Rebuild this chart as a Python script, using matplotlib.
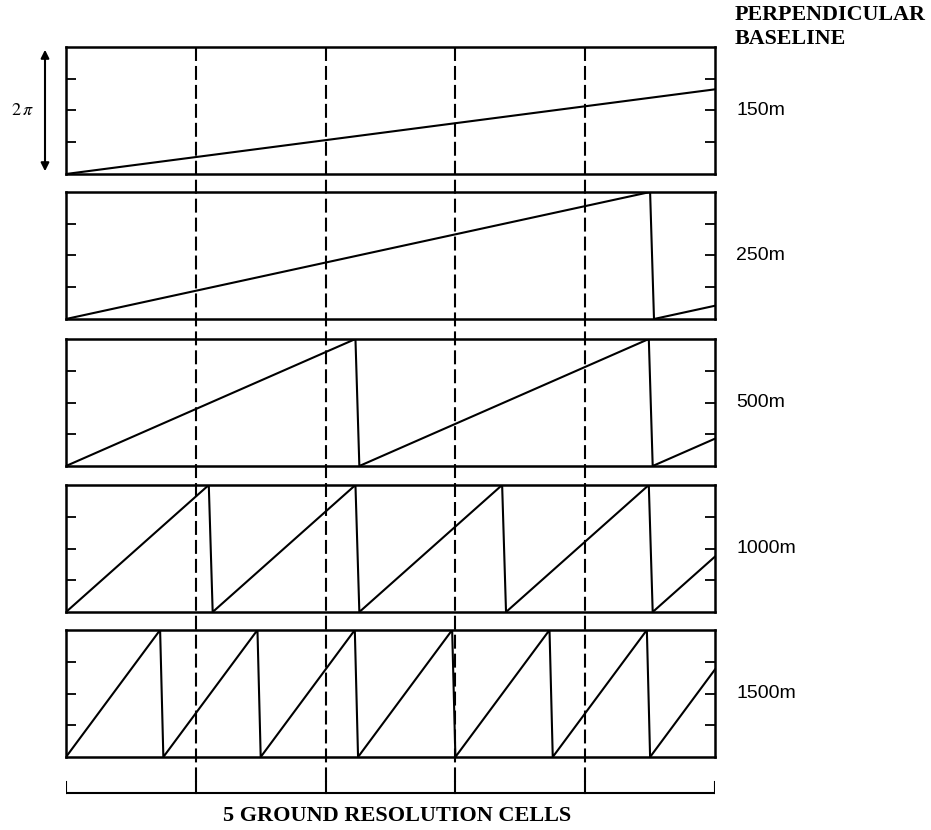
import matplotlib.pyplot as plt
from matplotlib.patches import FancyArrowPatch
import numpy as np

# perpendicular baselines; length of one phase ramp (0 -> 2 pi) in ground
# resolution cells, and the small run of the wrap edge back to zero
baselines = ["150m", "250m", "500m", "1000m", "1500m"]
ramp_length = [7.5, 4.5, 2.23, 1.1, 0.725]
wrap_run = [0.03, 0.03, 0.03, 0.03, 0.025]
n_cells = 5
cell_marks = [1, 2, 3, 4]

W, H = 931, 830
fig = plt.figure(figsize=(W / 100, H / 100), dpi=100)

left_px, right_px = 66, 715
panel_top_px = [47, 192, 339, 485, 630]
panel_h_px = 127


def wrapped_ramp(rise, run, length):
    xs, ys = [0.0], [0.0]
    start = 0.0
    while True:
        end = start + rise
        if end >= length:
            xs.append(length)
            ys.append((length - start) / rise)
            break
        xs += [end, end + run]
        ys += [1.0, 0.0]
        start = end + run
    return np.array(xs), np.array(ys)


def fx(px):
    return px / W


def fy(px):
    return 1 - px / H


for label, rise, run, top in zip(baselines, ramp_length, wrap_run, panel_top_px):
    ax = fig.add_axes([fx(left_px), fy(top + panel_h_px), fx(right_px - left_px), panel_h_px / H])
    x, y = wrapped_ramp(rise, run, n_cells)
    ax.plot(x, y, color="black", lw=1.5, solid_joinstyle="miter")
    ax.set_xlim(0, n_cells)
    ax.set_ylim(0, 1)
    ax.set_xticks([])
    ax.set_yticks([0.25, 0.5, 0.75])
    ax.set_yticklabels([])
    ax.tick_params(axis="y", direction="in", left=True, right=True, length=7, width=1.3)
    for s in ax.spines.values():
        s.set_linewidth(1.8)
    ax.text(fx(736 - left_px) / fx(right_px - left_px), 0.5, label, transform=ax.transAxes,
            va="center", ha="left", fontsize=14, family="Liberation Sans")

# overlay in pixel coordinates for the cell boundaries and the bracket
ov = fig.add_axes([fx(left_px), 0, fx(right_px - left_px), 1], zorder=10)
ov.set_xlim(0, n_cells)
ov.set_ylim(H, 0)
ov.axis("off")
ov.patch.set_alpha(0)

bracket_y, bracket_top = 793, 782
for c in cell_marks:
    ov.plot([c, c], [panel_top_px[0], bracket_top], color="black", lw=1.5,
            dashes=(6.7, 2.4))
ov.plot([0, n_cells], [bracket_y, bracket_y], color="black", lw=1.5)
for c in range(n_cells + 1):
    ov.plot([c, c], [bracket_top, bracket_y], color="black", lw=1.5)
ov.text(n_cells / 2 + 0.05, 816, "5 GROUND RESOLUTION CELLS", ha="center", va="center",
        fontsize=16, fontweight="bold", family="Liberation Serif")

# 2-pi scale arrow beside the first panel
fig.patches.append(FancyArrowPatch(
    (fx(45), fy(panel_top_px[0])), (fx(45), fy(panel_top_px[0] + panel_h_px)),
    transform=fig.transFigure, arrowstyle="<|-|>", mutation_scale=12, color="black", lw=1.5))
fig.text(fx(22), fy(110), r"$2\,\pi$", ha="center", va="center", fontsize=13,
         math_fontfamily="stix")

fig.text(fx(735), fy(27), "PERPENDICULAR\nBASELINE", ha="left", va="center", fontsize=15.8,
         fontweight="bold", family="Liberation Serif", linespacing=1.2)

fig.savefig("out.png", dpi=100)
